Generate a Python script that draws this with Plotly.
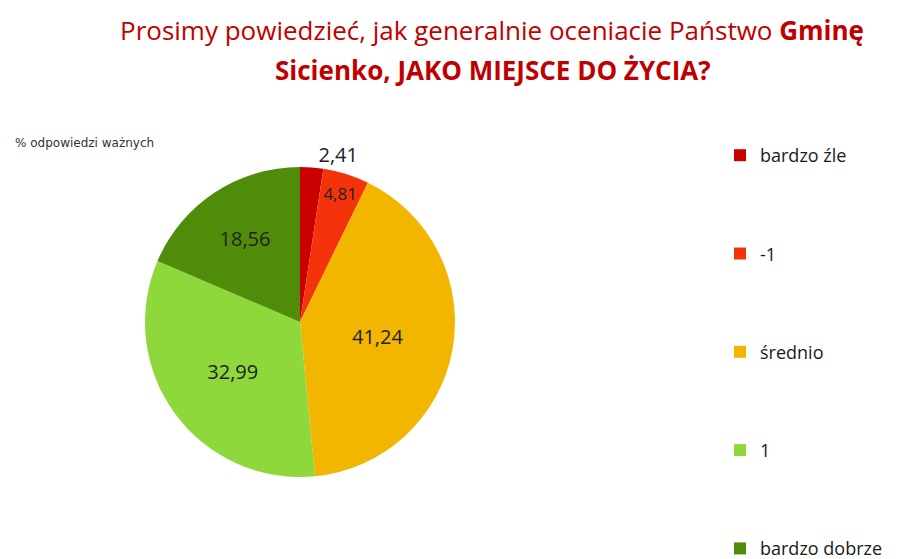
import plotly.graph_objects as go

categories = ["bardzo źle", "-1", "średnio", "1", "bardzo dobrze"]
values = [2.41, 4.81, 41.24, 32.99, 18.56]
colors = ["#C80000", "#F5330A", "#F2B600", "#8ED83C", "#4E8C0A"]
text_pos = ["outside", "inside", "inside", "inside", "inside"]

title_line1 = "Prosimy powiedzieć, jak generalnie oceniacie Państwo <b>Gminę</b>"
title_line2 = "<b>Sicienko, JAKO MIEJSCE DO ŻYCIA?</b>"
note_text = "% odpowiedzi ważnych"

W, H = 904, 559

fig = go.Figure()

fig.add_trace(go.Pie(
    labels=categories,
    values=values,
    sort=False,
    direction="clockwise",
    rotation=0,
    marker=dict(colors=colors, line=dict(width=0)),
    texttemplate="%{value:.2f}",
    textposition=text_pos,
    textfont=dict(family="Open Sans", size=20, color="#222222"),
    insidetextorientation="horizontal",
    hole=0,
    showlegend=False,
    domain=dict(x=[137 / W, 447 / W], y=[(H - 469) / H, (H - 159) / H]),
))

# Legend entries (one group each so they can be spaced like the original)
for i, (cat, col) in enumerate(zip(categories, colors)):
    fig.add_trace(go.Scatter(
        x=[None], y=[None],
        mode="markers",
        name=cat,
        legendgroup=f"g{i}",
        marker=dict(symbol="square", size=11, color=col),
        showlegend=True,
    ))

fig.add_annotation(
    text=title_line1, xref="paper", yref="paper",
    x=484 / W, y=1 - 22 / H, xanchor="center", yanchor="middle",
    showarrow=False, font=dict(family="Open Sans", size=26, color="#C00000"),
)
fig.add_annotation(
    text=title_line2, xref="paper", yref="paper",
    x=485 / W, y=1 - 62 / H, xanchor="center", yanchor="middle",
    showarrow=False, font=dict(family="Open Sans", size=26, color="#C00000"),
)
fig.add_annotation(
    text=note_text, xref="paper", yref="paper",
    x=5 / W, y=1 - 135 / H, xanchor="left", yanchor="middle",
    showarrow=False, font=dict(family="DejaVu Sans", size=12, color="#333333"),
)

fig.update_layout(
    width=W, height=H,
    margin=dict(l=0, r=0, t=0, b=0),
    paper_bgcolor="white",
    plot_bgcolor="white",
    separators=", ",
    xaxis=dict(visible=False),
    yaxis=dict(visible=False),
    legend=dict(
        x=712 / W, y=0, xanchor="left", yanchor="bottom",
        font=dict(family="Open Sans", size=18, color="#1a1a1a"),
        tracegroupgap=71.9,
        itemsizing="constant",
        bgcolor="rgba(0,0,0,0)",
    ),
)

fig.write_html("out.html")
